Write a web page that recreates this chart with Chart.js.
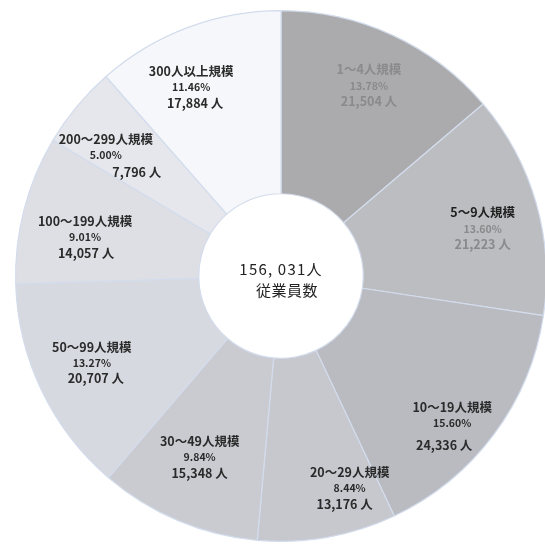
<!DOCTYPE html>
<html lang="ja">
<head>
<meta charset="utf-8">
<title>従業員数の規模別構成</title>
<script src="https://cdn.jsdelivr.net/npm/chart.js@4/dist/chart.umd.min.js"></script>
<style>
  html, body { margin: 0; padding: 0; background: #ffffff; overflow: hidden; }
  #wrap { width: 545px; height: 544px; overflow: hidden; }
  canvas { display: block; }
</style>
</head>
<body>
<div id="wrap"><canvas id="c" width="560" height="544"></canvas></div>
<script>
// 事業所規模区分
const categories = ['1〜4人規模', '5〜9人規模', '10〜19人規模', '20〜29人規模', '30〜49人規模',
                    '50〜99人規模', '100〜199人規模', '200〜299人規模', '300人以上規模'];
// 規模別の従業員数（人）
const employees = [21504, 21223, 24336, 13176, 15348, 20707, 14057, 7796, 17884];

// 区分ごとの塗り色
const fills = ['#ababad', '#bcbdc1', '#b9bbc1', '#c6c8ce', '#cacbd1',
               '#d7d9e1', '#dedfe5', '#e6e7ec', '#f6f7fa'];
// ラベル文字色（見出し / 数値）
const titleColors = ['#8a8a8c', '#1e1e1e', '#2a2a2a', '#2a2a2a', '#2a2a2a', '#2a2a2a', '#2a2a2a', '#2a2a2a', '#2a2a2a'];
const valueColors = ['#8a8a8c', '#8a8a8c', '#2a2a2a', '#2a2a2a', '#2a2a2a', '#2a2a2a', '#2a2a2a', '#2a2a2a', '#2a2a2a'];
// ラベル位置の微調整（px）：ブロック全体 [dx, dy] と人数行の横ずれ
const labelShift = [[0, 0], [0, 10], [3, 22], [32, 6], [0, -12], [0, -3], [7, 14], [-14, 13], [-16, 7]];
const countShiftX = [0, 0, -8, -5, 0, 4, 1, 31, 4];
const countGap = [16, 16, 22, 16, 16, 15, 16, 17, 16];

const total = employees.reduce((a, b) => a + b, 0);
const fmt = n => n.toLocaleString('en-US');

const FONT = '"Noto Sans CJK JP", "Noto Sans", sans-serif';

// 各区分の内側に「区分名・構成比・人数」を描く
const sliceLabels = {
  id: 'sliceLabels',
  afterDatasetsDraw(chart) {
    const ctx = chart.ctx;
    const meta = chart.getDatasetMeta(0);
    ctx.save();
    ctx.textAlign = 'center';
    ctx.textBaseline = 'middle';
    meta.data.forEach((arc, i) => {
      const p = arc.getProps(['x', 'y', 'startAngle', 'endAngle', 'outerRadius'], true);
      const mid = (p.startAngle + p.endAngle) / 2;
      const r = p.outerRadius * 0.79;
      const cx = p.x + Math.cos(mid) * r + labelShift[i][0];
      const cy = p.y + Math.sin(mid) * r + labelShift[i][1];
      const pct = (employees[i] / total * 100).toFixed(2) + '%';

      ctx.fillStyle = titleColors[i];
      ctx.font = 'bold 12.5px ' + FONT;
      ctx.fillText(categories[i], cx, cy - 16);

      ctx.fillStyle = valueColors[i];
      ctx.font = 'bold 10.5px ' + FONT;
      ctx.fillText(pct, cx, cy);

      ctx.font = 'bold 12.5px ' + FONT;
      ctx.fillText(fmt(employees[i]) + ' 人', cx + countShiftX[i], cy + countGap[i]);
    });
    ctx.restore();
  }
};

// 中央の合計表示
const centerTotal = {
  id: 'centerTotal',
  afterDatasetsDraw(chart) {
    const meta = chart.getDatasetMeta(0);
    const arc = meta.data[0];
    if (!arc) return;
    const { x, y } = arc.getProps(['x', 'y'], true);
    const ctx = chart.ctx;
    ctx.save();
    ctx.textAlign = 'center';
    ctx.textBaseline = 'middle';
    ctx.fillStyle = '#222222';
    ctx.font = '15px ' + FONT;
    ctx.letterSpacing = '1.2px';
    ctx.fillText(fmt(total).replace(',', ', ') + '人', x, y - 7);
    ctx.letterSpacing = '0.5px';
    ctx.fillText('従業員数', x + 6, y + 14);
    ctx.restore();
  }
};

new Chart(document.getElementById('c'), {
  type: 'doughnut',
  data: {
    labels: categories,
    datasets: [{
      data: employees,
      backgroundColor: fills,
      borderColor: '#d3dcec',
      borderWidth: 1.2
    }]
  },
  options: {
    responsive: false,
    animation: false,
    cutout: '31%',
    layout: { padding: { left: 15, right: 13, top: 10, bottom: 2 } },
    plugins: {
      legend: { display: false },
      tooltip: { enabled: false }
    }
  },
  plugins: [sliceLabels, centerTotal]
});
</script>
</body>
</html>
